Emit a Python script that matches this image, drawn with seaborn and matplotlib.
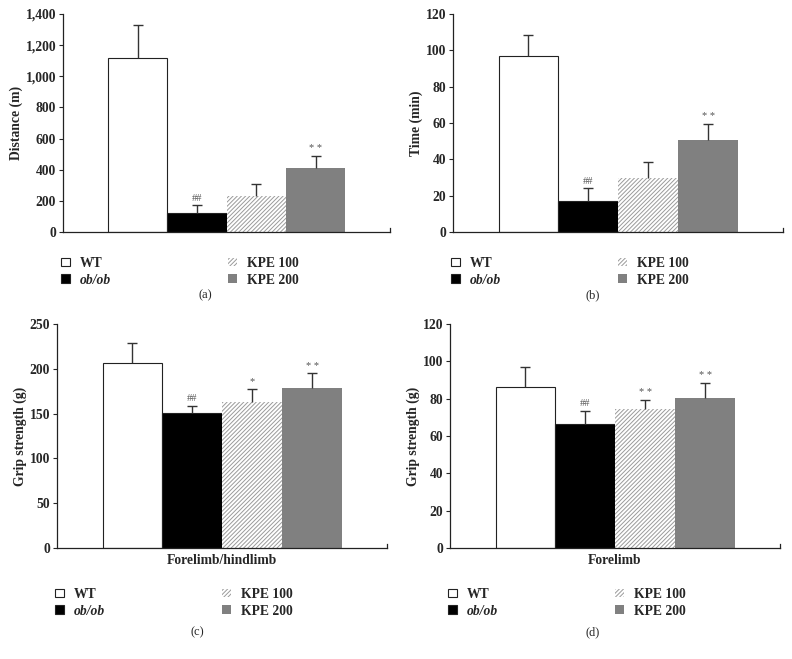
import numpy as np
import pandas as pd
import seaborn as sns
import matplotlib.pyplot as plt
from matplotlib.ticker import FuncFormatter

# Group names and bar styling order
groups = ["WT", "ob/ob", "KPE 100", "KPE 200"]

# (a) running distance
distance = [1115, 122, 233, 412]
distance_err = [215, 49, 75, 75]
distance_marks = ["", "##", "", "* *"]

# (b) running time
time_min = [97.1, 16.8, 29.7, 50.6]
time_err = [11.5, 7.2, 8.6, 8.8]
time_marks = ["", "##", "", "* *"]

# (c) grip strength forelimb/hindlimb
grip_all = [207, 151, 163, 179]
grip_all_err = [22, 8, 15, 16]
grip_all_marks = ["", "##", "*", "* *"]

# (d) grip strength forelimb
grip_fore = [86.3, 66.6, 74.5, 80.4]
grip_fore_err = [10.5, 7.0, 4.8, 8.0]
grip_fore_marks = ["", "##", "* *", "* *"]

sns.set_style("white")
plt.rcParams["font.family"] = ["Liberation Serif", "DejaVu Serif"]
plt.rcParams["hatch.linewidth"] = 0.7

fig = plt.figure(figsize=(7.92, 6.59), dpi=100)
W, H = 792, 659
FS = 9.8


def px_axes(left, right, top, bottom):
    return fig.add_axes([left / W, 1 - bottom / H, (right - left) / W, (bottom - top) / H])


def draw_panel(ax, vals, errs, marks, ylabel, ymax, step, xlabel, tag, tag_x, leg_y):
    df = pd.DataFrame({"group": groups, "value": vals})
    sns.barplot(data=df, x="group", y="value", hue="group", palette=["white", "black", "white", "#808080"],
                width=1.0, legend=False, ax=ax, linewidth=0.8, edgecolor="#222222")
    bars = ax.patches
    bars[2].set_hatch("////////")
    bars[2].set_edgecolor("#9a9a9a")
    bars[2].set_linewidth(0)
    bars[3].set_edgecolor("#808080")
    bars[3].set_linewidth(0)

    # upper error bars only
    eb = ax.errorbar(range(len(vals)), vals, yerr=[np.zeros(len(vals)), errs], fmt="none",
                     ecolor="#333333", elinewidth=1, capsize=3.5, capthick=1)
    eb[1][0].set_visible(False)
    for i, m in enumerate(marks):
        if m:
            ax.annotate(m, (i, vals[i] + errs[i]), xytext=(0, 2), textcoords="offset points",
                        ha="center", va="bottom", fontsize=7.5, color="#555555")

    ax.set_xlim(-1.26, 4.25)
    ax.set_ylim(0, ymax)
    ax.set_yticks(np.arange(0, ymax + 1, step))
    ax.yaxis.set_major_formatter(FuncFormatter(lambda v, p: f"{v:,.0f}"))
    ax.set_xticks([])
    ax.set_xlabel(xlabel, fontsize=FS, fontweight="bold", labelpad=4)
    ax.set_ylabel(ylabel, fontsize=FS, fontweight="bold", labelpad=2)
    ax.tick_params(axis="y", direction="out", length=3, width=0.8, pad=2, labelsize=FS, left=True)
    for lab in ax.get_yticklabels():
        lab.set_fontweight("bold")
    ax.spines["top"].set_visible(False)
    ax.spines["right"].set_bounds(0, ymax * 0.018)
    for s in ax.spines.values():
        s.set_color("#222222")
        s.set_linewidth(0.9)

    handles = [bars[0], bars[1], bars[2], bars[3]]
    leg = ax.legend(handles, groups, ncol=2, loc="upper left", bbox_to_anchor=(-0.005, leg_y),
                    frameon=False, fontsize=FS, handlelength=0.62, handleheight=0.62,
                    handletextpad=0.75, columnspacing=8.6, labelspacing=0.28, borderpad=0,
                    borderaxespad=0, prop={"weight": "bold", "size": FS})
    leg.get_texts()[1].set_style("italic")
    fig.text(tag_x / W, 1 - tag[1] / H, tag[0], ha="center", va="center", fontsize=9)


ax_a = px_axes(63, 390, 14, 232)
draw_panel(ax_a, distance, distance_err, distance_marks, "Distance (m)", 1400, 200, "",
           ("(a)", 295), 205, -0.114)
ax_b = px_axes(453, 783, 14, 232)
draw_panel(ax_b, time_min, time_err, time_marks, "Time (min)", 120, 20, "",
           ("(b)", 295), 593, -0.114)
ax_c = px_axes(57, 387, 324, 548)
draw_panel(ax_c, grip_all, grip_all_err, grip_all_marks, "Grip strength (g)", 250, 50,
           "Forelimb/hindlimb", ("(c)", 632), 197, -0.178)
ax_d = px_axes(450, 780, 324, 548)
draw_panel(ax_d, grip_fore, grip_fore_err, grip_fore_marks, "Grip strength (g)", 120, 20,
           "Forelimb", ("(d)", 632), 593, -0.178)

fig.savefig("out.png", dpi=100)
